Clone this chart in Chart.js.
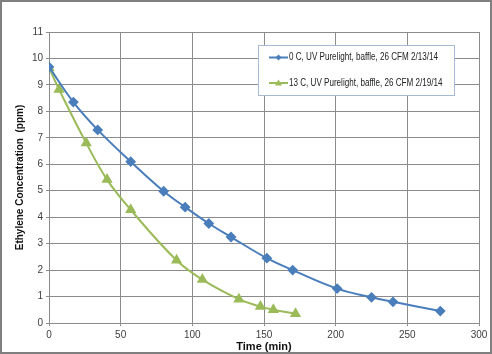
<!DOCTYPE html>
<html>
<head>
<meta charset="utf-8">
<script src="https://cdn.jsdelivr.net/npm/chart.js@4.4.0/dist/chart.umd.min.js"></script>
<style>
  html, body { margin: 0; padding: 0; background: #fff; }
  #wrap { width: 492px; height: 354px; position: relative; }
</style>
</head>
<body>
<div id="wrap"><canvas id="ethyleneChart" width="492" height="354"></canvas></div>
<script>
// readings
const timeA = [0, 17, 34, 57, 80, 95, 111.5, 127, 152, 170, 201, 225, 240, 273];
const concA = [9.68, 8.35, 7.3, 6.1, 4.98, 4.38, 3.76, 3.25, 2.45, 2.0, 1.3, 0.97, 0.8, 0.45];
const timeB = [0, 7, 26, 40.5, 57, 89, 107, 132.5, 147.5, 156.5, 172];
const concB = [9.65, 8.83, 6.8, 5.42, 4.28, 2.37, 1.64, 0.9, 0.62, 0.5, 0.35];
const labelA = '0 C, UV Purelight, baffle, 26 CFM 2/13/14';
const labelB = '13 C, UV Purelight, baffle, 26 CFM 2/19/14';
const xTicks = [0, 50, 100, 150, 200, 250, 300];

const blue = '#4a7ebb';
const green = '#9bbb59';
const fontFam = "'Liberation Sans', Arial, sans-serif";

function pts(xs, ys) {
    return xs.map((x, i) => ({ x: x, y: ys[i] }));
}

const frameAndLegend = {
    id: 'frameAndLegend',
    beforeDraw(chart) {
        const c = chart.ctx;
        c.save();
        c.fillStyle = '#fff';
        c.fillRect(0, 0, chart.width, chart.height);
        c.restore();
    },
    afterDraw(chart) {
        const c = chart.ctx;
        c.save();
        // outer frame
        c.strokeStyle = '#7f7f7f';
        c.lineWidth = 2;
        c.strokeRect(1, 1, chart.width - 2, chart.height - 2);

        // legend box
        const bx = 258.5, by = 45.5, bw = 196, bh = 50;
        c.fillStyle = '#fff';
        c.fillRect(bx, by, bw, bh);
        c.strokeStyle = '#a7b9d3';
        c.lineWidth = 1;
        c.strokeRect(bx, by, bw, bh);

        c.font = '10px ' + fontFam;
        // squeeze the text horizontally to mimic the narrow original face
        const squeeze = 149 / c.measureText(labelA).width;

        const rows = [
            { y: 57.5, ds: chart.data.datasets[0] },
            { y: 83, ds: chart.data.datasets[1] }
        ];
        rows.forEach(r => {
            c.strokeStyle = r.ds.borderColor;
            c.lineWidth = 2;
            c.beginPath();
            c.moveTo(269, r.y);
            c.lineTo(288, r.y);
            c.stroke();
            c.fillStyle = r.ds.borderColor;
            c.beginPath();
            if (r.ds.pointStyle === 'rectRot') {
                c.moveTo(278.5, r.y - 3);
                c.lineTo(281.5, r.y);
                c.lineTo(278.5, r.y + 3);
                c.lineTo(275.5, r.y);
            } else {
                c.moveTo(278.5, r.y - 3.5);
                c.lineTo(282, r.y + 2.5);
                c.lineTo(275, r.y + 2.5);
            }
            c.closePath();
            c.fill();
            c.save();
            c.translate(289, r.y);
            c.scale(squeeze, 1);
            c.fillStyle = '#222';
            c.textBaseline = 'middle';
            c.textAlign = 'left';
            c.fillText(r.ds.label, 0, 0);
            c.restore();
        });
        c.restore();
    }
};

const ctx = document.getElementById('ethyleneChart').getContext('2d');

new Chart(ctx, {
    type: 'scatter',
    data: {
        datasets: [{
            label: labelA,
            data: pts(timeA, concA),
            showLine: true,
            borderColor: blue,
            backgroundColor: blue,
            borderWidth: 2,
            pointStyle: 'rectRot',
            pointRadius: 4,
            pointHoverRadius: 4,
            tension: 0.4
        }, {
            label: labelB,
            data: pts(timeB, concB),
            showLine: true,
            borderColor: green,
            backgroundColor: green,
            borderWidth: 2,
            pointStyle: 'triangle',
            pointRadius: 4.5,
            pointHoverRadius: 4.5,
            tension: 0.4
        }]
    },
    options: {
        responsive: false,
        animation: false,
        layout: { padding: { top: 32, right: 13, left: 0, bottom: 0 } },
        plugins: {
            legend: { display: false },
            tooltip: { enabled: false }
        },
        scales: {
            x: {
                type: 'linear',
                min: 0,
                max: 300,
                afterBuildTicks: axis => { axis.ticks = xTicks.map(v => ({ value: v })); },
                afterFit: axis => { axis.height = 31; },
                grid: { color: '#8c8c8c', tickLength: 3, drawTicks: true },
                border: { color: '#8c8c8c' },
                ticks: { color: '#404040', padding: 3, font: { family: fontFam, size: 10 } },
                title: {
                    display: true,
                    text: 'Time (min)',
                    color: '#111',
                    padding: { top: 0, bottom: 0 },
                    font: { family: fontFam, size: 11, weight: 'bold' }
                }
            },
            y: {
                min: 0,
                max: 11,
                afterFit: axis => { axis.width = 49; },
                grid: { color: '#8c8c8c', tickLength: 3 },
                border: { color: '#8c8c8c' },
                ticks: { stepSize: 1, color: '#404040', padding: 3, font: { family: fontFam, size: 10 } },
                title: {
                    display: true,
                    text: 'Ethylene Concentration  (ppm)',
                    color: '#111',
                    padding: { top: 14, bottom: 0 },
                    font: { family: fontFam, size: 10, weight: 'bold' }
                }
            }
        }
    },
    plugins: [frameAndLegend]
});
</script>
</body>
</html>
